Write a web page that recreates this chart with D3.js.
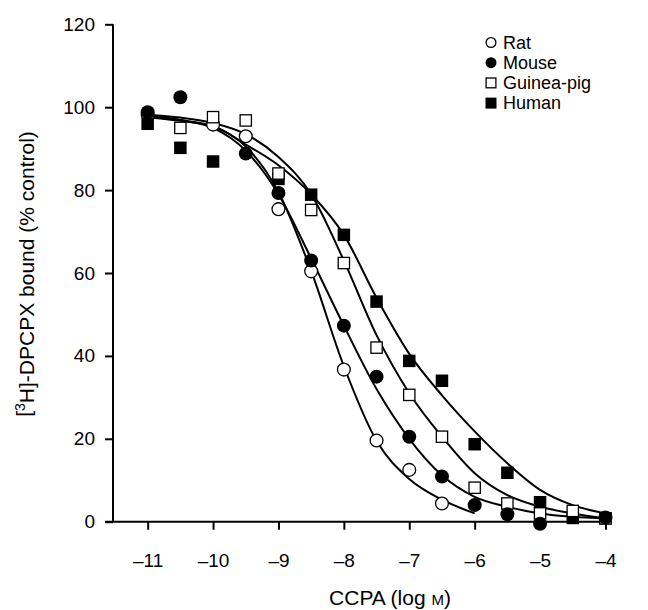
<!DOCTYPE html>
<html>
<head>
<meta charset="utf-8">
<script src="https://cdn.jsdelivr.net/npm/d3@7"></script>
<style>
  body { margin: 0; background: #fff; }
  svg { font-family: "Liberation Sans", Arial, sans-serif; }
</style>
</head>
<body>
<div id="chart"></div>
<script>
// measured points, per species (log M, % control)
var ratX = [-11, -10, -9.5, -9, -8.5, -8, -7.5, -7, -6.5];
var ratY = [98.2, 95.8, 93, 75.4, 60.4, 36.7, 19.6, 12.5, 4.4];

var mouseX = [-11, -10.5, -9.5, -9, -8.5, -8, -7.5, -7, -6.5, -6, -5.5, -5, -4];
var mouseY = [98.8, 102.4, 88.8, 79.3, 63, 47.3, 35, 20.5, 10.9, 4, 1.8, -0.5, 1];

var guineaX = [-10.5, -10, -9.5, -9, -8.5, -8, -7.5, -7, -6.5, -6, -5.5, -5, -4.5, -4];
var guineaY = [95, 97.6, 96.8, 84, 75.2, 62.4, 42, 30.6, 20.5, 8.2, 4.4, 2, 2.6, 0.8];

var humanX = [-11, -10.5, -10, -9, -8.5, -8, -7.5, -7, -6.5, -6, -5.5, -5, -4.5, -4];
var humanY = [96, 90.2, 86.9, 82.7, 78.9, 69.2, 53.1, 38.8, 34, 18.7, 11.8, 4.7, 0.9, 0.8];

// fitted curves, every half log unit
var fitX = [-11, -10.5, -10, -9.5, -9, -8.5, -8, -7.5, -7, -6.5, -6, -5.5, -5, -4.5, -4];
var ratFit = [97.8, 96.9, 95.3, 90.5, 79.5, 60.5, 37.5, 19.5, 10.3, 5.3, 2.0];
var mouseFit = [97.8, 96.9, 95.0, 89.5, 79.0, 63.5, 47.3, 32.0, 20.0, 11.2, 6.0, 3.6, 2.0, 1.2, 0.8];
var guineaFit = [98.2, 97.5, 96.2, 93.5, 88.0, 79.0, 63.0, 45.0, 31.0, 20.5, 11.7, 6.4, 3.6, 2.0, 0.8];
var humanFit = [97.6, 96.7, 95.5, 91.0, 86.0, 79.0, 69.2, 54.0, 40.5, 30.5, 21.8, 14.1, 7.7, 4.0, 2.0];

var xTicks = [-11, -10, -9, -8, -7, -6, -5, -4];
var yTicks = [0, 20, 40, 60, 80, 100, 120];

var legendNames = ["Rat", "Mouse", "Guinea-pig", "Human"];

var width = 648;
var height = 610;

var svg = d3.select("#chart").append("svg")
  .attr("width", width)
  .attr("height", height);

var x = d3.scaleLinear().domain([-11.53, -3.92]).range([113, 610.7]);
var y = d3.scaleLinear().domain([0, 120]).range([521.7, 24.3]);

var fmt = function (d) { return d < 0 ? "\u2013" + Math.abs(d) : d; };

/*----------------------
AXES
----------------------*/
var xAxis = svg.append("g")
  .attr("transform", "translate(0," + y(0) + ")")
  .call(d3.axisBottom(x).tickValues(xTicks).tickSize(8).tickPadding(24).tickFormat(fmt));

var yAxis = svg.append("g")
  .attr("transform", "translate(" + x.range()[0] + ",0)")
  .call(d3.axisLeft(y).tickValues(yTicks).tickSize(8).tickPadding(10));

[xAxis, yAxis].forEach(function (g) {
  g.select(".domain").attr("stroke", "#000").attr("stroke-width", 2).attr("d", null);
  g.selectAll(".tick line").attr("stroke", "#000").attr("stroke-width", 2);
  g.selectAll(".tick text").attr("fill", "#000").style("font-size", "19px")
    .style("font-family", "'Liberation Sans', Arial, sans-serif");
});
xAxis.select(".domain").attr("d", "M" + (x.range()[0] - 8) + ",0H" + x.range()[1]);
yAxis.select(".domain").attr("d", "M0," + y.range()[1] + "V" + y.range()[0]);

// axis titles
var yTitle = svg.append("text")
  .attr("transform", "translate(31,274) rotate(-90)")
  .attr("text-anchor", "middle")
  .style("font-size", "21px");
yTitle.append("tspan").text("[");
yTitle.append("tspan").attr("dy", "-0.45em").style("font-size", "14px").text("3");
yTitle.append("tspan").attr("dy", "0.45em").text("H]-DPCPX bound (% control)");

var xTitle = svg.append("text")
  .attr("x", 390)
  .attr("y", 605)
  .attr("text-anchor", "middle")
  .style("font-size", "21px");
xTitle.append("tspan").text("CCPA (log ");
xTitle.append("tspan").style("font-size", "15px").text("M");
xTitle.append("tspan").text(")");

/*----------------------
FITTED CURVES
----------------------*/
var line = d3.line()
  .x(function (d) { return x(d[0]); })
  .y(function (d) { return y(d[1]); })
  .curve(d3.curveMonotoneX);

[ratFit, mouseFit, guineaFit, humanFit].forEach(function (fit) {
  var pts = fit.map(function (v, i) { return [fitX[i], v]; });
  svg.append("path")
    .attr("d", line(pts))
    .attr("fill", "none")
    .attr("stroke", "#000")
    .attr("stroke-width", 2);
});

/*----------------------
DATA POINTS
----------------------*/
function drawMarker(g, kind, cx, cy, size) {
  if (kind == "circle") {
    g.append("circle").attr("cx", cx).attr("cy", cy).attr("r", size / 2 - 0.6)
      .attr("fill", "#fff").attr("stroke", "#000").attr("stroke-width", 1.3);
  } else if (kind == "dot") {
    g.append("circle").attr("cx", cx).attr("cy", cy).attr("r", size / 2)
      .attr("fill", "#000");
  } else if (kind == "square") {
    g.append("rect").attr("x", cx - size / 2 + 0.6).attr("y", cy - size / 2 + 0.6)
      .attr("width", size - 1.2).attr("height", size - 1.2)
      .attr("fill", "#fff").attr("stroke", "#000").attr("stroke-width", 1.3);
  } else {
    g.append("rect").attr("x", cx - size / 2).attr("y", cy - size / 2)
      .attr("width", size).attr("height", size).attr("fill", "#000");
  }
}

var series = [
  { xs: ratX, ys: ratY, kind: "circle", size: 14 },
  { xs: humanX, ys: humanY, kind: "block", size: 12.5 },
  { xs: guineaX, ys: guineaY, kind: "square", size: 12.5 },
  { xs: mouseX, ys: mouseY, kind: "dot", size: 14 }
];

var marks = svg.append("g");
series.forEach(function (s) {
  for (let i = 0; i < s.xs.length; i++) {
    drawMarker(marks, s.kind, x(s.xs[i]), y(s.ys[i]), s.size);
  }
});

/*----------------------
LEGEND
----------------------*/
var legendKinds = ["circle", "dot", "square", "block"];
var legend = svg.append("g").attr("transform", "translate(491,42.5)");
for (let i = 0; i < legendNames.length; i++) {
  drawMarker(legend, legendKinds[i], 0, i * 20.2, 11);
  legend.append("text")
    .attr("x", 12)
    .attr("y", i * 20.2)
    .attr("dy", "0.35em")
    .style("font-size", "18px")
    .text(legendNames[i]);
}
</script>
</body>
</html>
